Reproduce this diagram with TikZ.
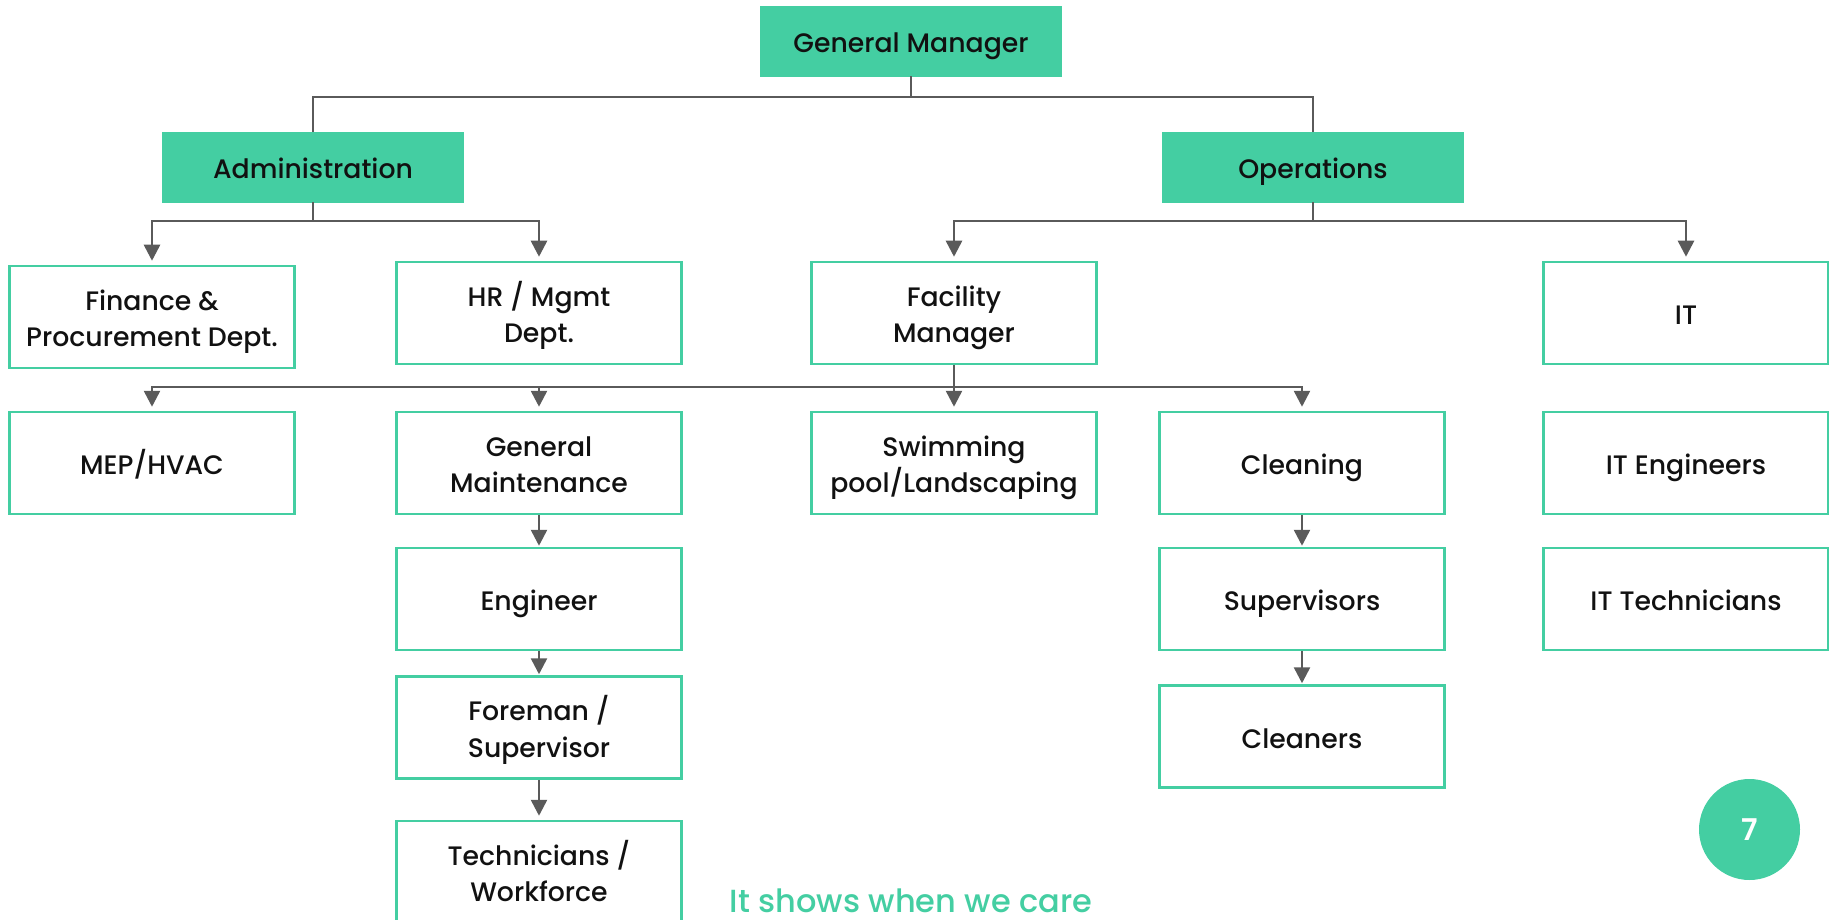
\documentclass[tikz,border=0pt]{standalone}
\usepackage{fontspec}
\setmainfont{Poppins}[UprightFont=* Medium, BoldFont=* SemiBold]
\usetikzlibrary{arrows.meta}
\definecolor{G}{HTML}{44CEA2}
\definecolor{L}{HTML}{5A5A5A}
\definecolor{T}{HTML}{111111}
\newcommand{\boxfont}{\fontsize{26.7}{36.5}\selectfont\lineskiplimit=-100pt\relax}
\newcommand{\st}{\rule[-8pt]{0pt}{39pt}}
\tikzset{
  topbox/.style={fill=G, draw=G, minimum width=301pt, minimum height=70pt, inner sep=0pt, text=T, font=\boxfont},
  subbox/.style={draw=G, line width=2.5pt, fill=white, minimum width=285pt, minimum height=102pt, inner sep=0pt, align=center, text=T, font=\boxfont},
  conn/.style={draw=L, line width=2.6pt},
  arr/.style={conn, -{Triangle[length=16pt,width=16pt]}, shorten >=4pt},
  chain/.style={conn, -{Triangle[length=16pt,width=16pt]}, shorten >=1pt}
}
\begin{document}
\begin{tikzpicture}[x=1pt,y=-1pt]
\useasboundingbox (0,0) rectangle (1829,920);
% top level
\node[topbox] (gm) at (911,41) {\st General Manager};
\node[topbox] (adm) at (313,167) {\st Administration};
\node[topbox] (ops) at (1313,167) {\st Operations};
% second level
\node[subbox] (fin) at (152,317) {\st Finance \&\\\st Procurement Dept.};
\node[subbox] (hr) at (539,313) {\st HR / Mgmt\\\st Dept.};
\node[subbox] (fac) at (954,313) {\st Facility\\\st Manager};
\node[subbox] (it) at (1686,313) {\st IT};
% third level
\node[subbox] (mep) at (152,463) {\st MEP/HVAC};
\node[subbox] (gmt) at (539,463) {\st General\\\st Maintenance};
\node[subbox] (swim) at (954,463) {\st Swimming\\\st pool/Landscaping};
\node[subbox] (clean) at (1302,463) {\st Cleaning};
\node[subbox] (iteng) at (1686,463) {\st IT Engineers};
% fourth level
\node[subbox] (eng) at (539,599) {\st Engineer};
\node[subbox] (sup) at (1302,599) {\st Supervisors};
\node[subbox] (ittech) at (1686,599) {\st IT Technicians};
% fifth level
\node[subbox] (fore) at (539,727.5) {\st Foreman /\\\st Supervisor};
\node[subbox] (clnr) at (1302,736.5) {\st Cleaners};
\node[subbox] (tech) at (539,872) {\st Technicians /\\\st Workforce};
% branch points
\coordinate (b1) at (911,97);
\coordinate (b2) at (313,221);
\coordinate (b3) at (1313,221);
\coordinate (b4) at (954,387);
% connectors
\draw[conn] (gm.south) -- (b1);
\draw[conn] (adm.north) |- (b1) -| (ops.north);
\draw[conn] (adm.south) -- (b2);
\draw[arr] (b2) -| (fin.north);
\draw[arr] (b2) -| (hr.north);
\draw[conn] (ops.south) -- (b3);
\draw[arr] (b3) -| (fac.north);
\draw[arr] (b3) -| (it.north);
\draw[arr] (fac.south) -- (swim.north);
\draw[arr] (b4) -| (mep.north);
\draw[arr] (b4) -| (gmt.north);
\draw[arr] (b4) -| (clean.north);
\draw[chain] (gmt.south) -- (eng.north);
\draw[chain] (eng.south) -- (fore.north);
\draw[arr] (fore.south) -- (tech.north);
\draw[chain] (clean.south) -- (sup.north);
\draw[chain] (sup.south) -- (clnr.north);
% footer
\node[anchor=base, inner sep=0pt, text=G, font=\fontsize{32}{36}\selectfont] (tag) at (911,912) {It shows when we care};
\node[circle, fill=G, minimum size=101pt, inner sep=0pt, text=white, font=\fontsize{30}{36}\selectfont\bfseries] (pg) at (1749.5,829.5) {7};
\end{tikzpicture}
\end{document}
